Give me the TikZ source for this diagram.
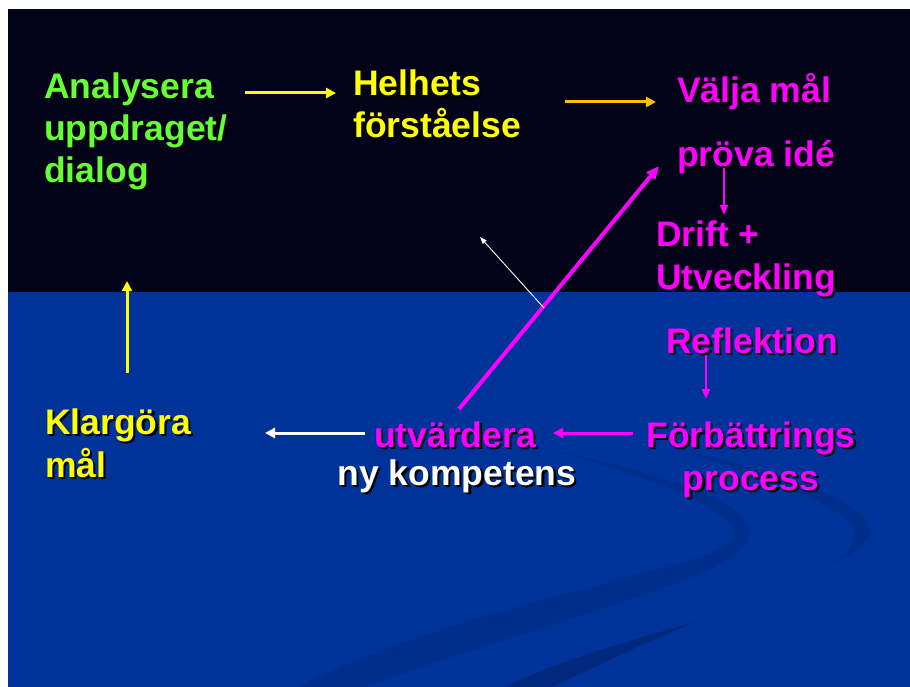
\documentclass[tikz,border=0pt]{standalone}
\usepackage{fontspec}
\setmainfont{Liberation Sans}
\usetikzlibrary{arrows.meta}
\definecolor{topbg}{RGB}{2,2,24}
\definecolor{botbg}{RGB}{0,51,153}
\definecolor{swoosh}{RGB}{0,46,140}
\definecolor{swooshd}{RGB}{0,40,126}
\definecolor{lgreen}{RGB}{102,255,51}
\definecolor{yel}{RGB}{255,255,0}
\definecolor{gold}{RGB}{255,192,0}
\definecolor{mag}{RGB}{255,0,255}
\newcommand\shd[1]{\rlap{\kern2.2pt\raisebox{-2.2pt}{\textcolor{black}{#1}}}#1}
\begin{document}
\begin{tikzpicture}[x=1pt,y=-1pt,
  lbl/.style={inner sep=0pt, font=\fontsize{35.5}{42.5}\selectfont\bfseries, align=left, anchor=base west},
  clbl/.style={lbl, align=center, anchor=base},
  arr/.style={line width=3pt, -{Triangle[length=10pt,width=10pt]}},
  thinarr/.style={line width=2pt, -{Triangle[length=10pt,width=8pt]}}]
\useasboundingbox (0,0) rectangle (910,687);
\fill[white] (0,0) rectangle (910,687);
\fill[topbg] (8,9) rectangle (910,292);
\fill[botbg] (8,292) rectangle (910,687);
\begin{scope}
\clip (8,292) rectangle (910,687);
% main swoosh
\fill[swoosh] (530,445) .. controls (640,468) and (752,498) .. (750,535)
  .. controls (748,575) and (565,615) .. (356,690) -- (292,690)
  .. controls (470,598) and (733,566) .. (734,536)
  .. controls (735,508) and (640,472) .. (530,445) -- cycle;
% right swoosh
\fill[swoosh] (677,450) .. controls (780,470) and (872,505) .. (870,530)
  .. controls (868,548) and (845,558) .. (830,565)
  .. controls (848,552) and (858,540) .. (855,530)
  .. controls (850,512) and (780,480) .. (677,450) -- cycle;
% lower band
\fill[swooshd] (696,622) .. controls (630,640) and (560,660) .. (498,690) -- (545,690)
  .. controls (600,665) and (650,640) .. (696,622) -- cycle;
\end{scope}
% texts (multi-line nodes are placed by the baseline of their last line)
\node[lbl, text=lgreen] (ana) at (44,183) {\shd{Analysera}\\\shd{uppdraget/}\\\shd{dialog}};
\node[lbl, text=yel] (hel) at (353,138) {\shd{Helhets}\\\shd{förståelse}};
\node[lbl, text=mag] (valj) at (677,103) {\shd{Välja mål}};
\node[lbl, text=mag] (prova) at (677,167) {\shd{pröva idé}};
\node[lbl, text=mag] (drift) at (656,289) {\shd{Drift +}\\\shd{Utveckling}};
\node[lbl, text=mag] (refl) at (666,353) {\shd{Reflektion}};
\node[clbl, text=mag] (forb) at (751,490) {\shd{Förbättrings}\\\shd{process}};
\node[clbl, text=mag] (utv) at (455,447) {\shd{utvärdera}};
\node[clbl, text=white] (ny) at (457,485) {\shd{ny kompetens}};
\node[lbl, text=yel] (klar) at (45,477) {\shd{Klargöra}\\\shd{mål}};
% connector end points
\coordinate (a1s) at (245,93);  \coordinate (a1e) at (336,93);
\coordinate (a2s) at (565,102); \coordinate (a2e) at (656,102);
\coordinate (a3s) at (724,168); \coordinate (a3e) at (724,215);
\coordinate (a4s) at (459,409); \coordinate (a4e) at (659,166);
\coordinate (a5s) at (544,308); \coordinate (a5e) at (480,237);
\coordinate (a6s) at (706,355); \coordinate (a6e) at (706,399);
\coordinate (a7s) at (633,433); \coordinate (a7e) at (553,433);
\coordinate (a8s) at (365,433); \coordinate (a8e) at (265,433);
\coordinate (a9s) at (127,373); \coordinate (a9e) at (127,281);
% connectors
\draw[arr, yel] (a1s) -- (a1e);
\draw[arr, gold] (a2s) -- (a2e);
\draw[thinarr, mag] (a3s) -- (a3e);
\draw[mag, line width=4pt, -{Triangle[length=13pt,width=11pt]}] (a4s) -- (a4e);
\draw[white, line width=0.9pt, -{Triangle[length=7pt,width=5pt]}] (a5s) -- (a5e);
\draw[thinarr, mag] (a6s) -- (a6e);
\draw[arr, mag] (a7s) -- (a7e);
\draw[arr, white] (a8s) -- (a8e);
\draw[arr, yel] (a9s) -- (a9e);
\end{tikzpicture}
\end{document}
